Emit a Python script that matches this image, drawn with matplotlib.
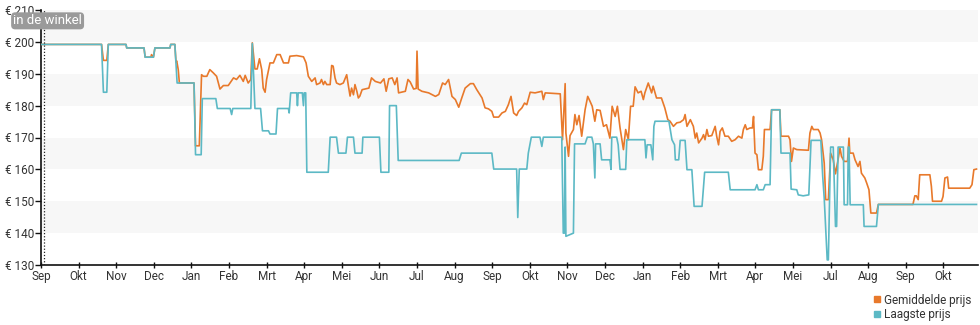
import matplotlib
matplotlib.use("Agg")
import matplotlib.pyplot as plt
from matplotlib.lines import Line2D

plt.rcParams['font.family'] = ['Roboto', 'DejaVu Sans']

# month labels along the x axis (one tick per month)
month_labels = ['Sep', 'Okt', 'Nov', 'Dec', 'Jan', 'Feb', 'Mrt', 'Apr', 'Mei', 'Jun',
                'Jul', 'Aug', 'Sep', 'Okt', 'Nov', 'Dec', 'Jan', 'Feb', 'Mrt', 'Apr',
                'Mei', 'Jul', 'Aug', 'Sep', 'Okt']
price_ticks = [130, 140, 150, 160, 170, 180, 190, 200, 210]

# average price: (months since start, euro)
avg_t = [0, 1.61, 1.66, 1.75, 1.79, 2.26, 2.28, 2.74, 2.77, 2.92, 2.94, 2.99, 3.03, 3.43,
         3.45, 3.56, 3.59, 3.61, 3.65, 3.68, 4.07, 4.11, 4.21, 4.27, 4.32, 4.41, 4.49, 4.58,
         4.67, 4.76, 4.85, 4.98, 5.12, 5.20, 5.29, 5.38, 5.43, 5.51, 5.58, 5.62, 5.69, 5.75,
         5.81, 5.87, 5.91, 5.96, 6.00, 6.09, 6.18, 6.27, 6.36, 6.45, 6.58, 6.62, 6.80, 6.98,
         7.05, 7.11, 7.20, 7.29, 7.33, 7.42, 7.46, 7.51, 7.55, 7.60, 7.69, 7.73, 7.77, 7.82,
         7.86, 7.95, 8.04, 8.13, 8.17, 8.22, 8.26, 8.31, 8.35, 8.40, 8.44,
         8.48, 8.54, 8.72, 8.79, 8.89, 9.03, 9.12, 9.18, 9.25, 9.34, 9.41, 9.47, 9.51, 9.69,
         9.76, 9.82, 9.91, 9.98, 10.00, 10.03, 10.13, 10.31, 10.49, 10.58, 10.68, 10.75,
         10.84, 10.93, 11.02, 11.11, 11.19, 11.28, 11.42, 11.50, 11.59, 11.73, 11.81, 11.90,
         11.99, 12.04, 12.17, 12.26, 12.35, 12.43, 12.50, 12.57, 12.65, 12.70, 12.79, 12.86,
         12.92, 13.01, 13.14, 13.32, 13.36, 13.41, 13.81, 13.87, 13.94, 13.96, 14.03, 14.07,
         14.16, 14.20, 14.25, 14.31, 14.38, 14.47, 14.54, 14.60, 14.66, 14.73, 14.78, 14.87,
         14.96, 15.04, 15.13, 15.19, 15.27, 15.33, 15.40, 15.49, 15.55, 15.62, 15.68, 15.75,
         15.80, 15.88, 15.96, 16.02, 16.06, 16.15, 16.24, 16.28, 16.37, 16.50, 16.59,
         16.67, 16.73, 16.82, 16.91, 17.00, 17.09, 17.13, 17.18, 17.27, 17.35, 17.40, 17.44,
         17.49, 17.58, 17.62, 17.66, 17.71, 17.75, 17.84, 17.93, 17.97, 18.02, 18.06, 18.12,
         18.19, 18.28, 18.37, 18.46, 18.55, 18.64, 18.68, 18.73, 18.77, 18.86, 18.92, 18.95,
         18.99, 19.04, 19.08, 19.17, 19.21, 19.24, 19.39, 19.43, 19.65, 19.68, 19.88, 19.92,
         19.96, 20.01, 20.10, 20.41, 20.45, 20.50, 20.54, 20.67, 20.72, 20.76, 20.83, 20.87,
         20.94, 21.00, 21.07, 21.13, 21.19, 21.25, 21.29, 21.36, 21.45, 21.49, 21.51, 21.60,
         21.65, 21.73, 21.78, 21.82, 21.91, 21.96, 22.02, 22.07, 22.22, 22.27, 23.19, 23.24,
         23.28, 23.33, 23.37, 23.64, 23.68, 23.71, 23.95, 23.99, 24.04, 24.11, 24.14, 24.70,
         24.76, 24.81, 24.88]
avg_price = [199.2, 199.2, 194.2, 194.2, 199.2, 199.2, 198.1, 198.1, 195.2, 195.2, 196.0,
             195.2, 198.1, 198.1, 199.2, 199.2, 193.7, 194.0, 191.3, 187.1, 187.1, 167.4,
             167.4, 189.7, 189.2, 189.2, 191.3, 190.3, 189.2, 185.2, 186.3, 186.3, 188.7,
             188.2, 189.5, 187.6, 189.5, 187.1, 188.2, 199.7, 191.5, 191.5, 194.7, 191.3,
             185.5, 184.2, 188.2, 193.4, 193.4, 196.0, 196.0, 193.4, 193.4, 195.5, 195.7,
             195.3, 193.4, 189.2, 187.6, 188.7, 186.6, 187.1, 188.2, 186.6, 187.6, 186.6,
             186.6, 192.6, 192.4, 188.7, 187.1, 186.6, 187.1, 189.7, 186.6, 183.0, 185.5,
             183.4, 186.6, 184.5, 182.4,
             183.0, 185.0, 185.5, 188.7, 187.6, 187.1, 188.4, 184.5, 188.4, 188.7, 186.6,
             188.7, 184.0, 184.5, 188.2, 187.4, 185.2, 185.4, 197.1, 185.2, 184.5, 184.0,
             182.9, 183.5, 187.1, 186.6, 188.2, 182.9, 181.9, 179.5, 182.4, 185.5, 186.9,
             186.9, 185.0, 182.4, 179.3, 179.0, 178.2, 176.4, 176.4, 177.7, 178.2, 180.3,
             182.9, 177.7, 176.9, 178.2, 179.3, 180.8, 180.3, 184.2, 184.0, 184.5, 181.9,
             184.0, 183.7, 169.3, 186.9, 171.4, 164.1, 170.6, 172.5, 177.2, 174.0, 176.9,
             170.4, 178.7, 182.9, 181.4, 179.8, 175.1, 178.7, 178.5, 173.5, 174.0, 169.8,
             179.8, 176.6, 179.8, 173.0, 166.2, 172.5, 169.3, 179.8, 179.8, 185.9, 184.0,
             184.5, 181.9, 184.0, 187.1, 184.0, 186.1, 182.4, 182.4, 179.3,
             175.6, 175.1, 173.5, 174.6, 174.8, 175.6, 177.2, 173.5, 175.6, 173.5, 169.8,
             171.4, 168.3, 169.8, 170.9, 169.3, 172.5, 170.4, 170.6, 173.5, 170.4, 167.7,
             171.9, 173.0, 170.4, 170.4, 168.8, 169.3, 170.4, 169.8, 172.5, 174.0, 172.5,
             173.0, 173.0, 176.6, 165.1, 164.6, 159.9, 159.9, 164.1, 172.5, 172.5, 178.7,
             178.7, 170.4, 170.4, 169.3, 162.5, 166.7, 166.2, 166.0, 171.4, 173.5, 172.5,
             172.5, 171.4, 169.3, 162.0, 150.5, 150.5, 165.1, 163.0, 158.6, 162.5, 166.7,
             164.1, 162.5, 162.5, 169.8, 165.1, 165.1, 163.0, 160.9, 162.5, 158.8, 157.3,
             155.7, 153.6, 146.3, 146.3, 149.0, 149.0, 151.7, 151.7, 150.5, 158.3, 158.3,
             154.7, 150.0, 150.0, 151.5, 157.3, 157.6, 154.1, 154.1, 155.2, 159.9, 160.1]

# lowest price: (months since start, euro)
low_t = [0, 1.61, 1.66, 1.75, 1.79, 2.26, 2.28, 2.74, 2.77, 2.99, 3.03, 3.43, 3.45, 3.56,
         3.62, 4.07, 4.11, 4.26, 4.29, 4.65, 4.69, 5.03, 5.07, 5.10, 5.58, 5.62, 5.69, 5.84,
         5.89, 6.05, 6.09, 6.25, 6.29, 6.58, 6.60, 6.64, 6.80, 6.82, 6.84, 6.95, 6.98, 7.00,
         7.04, 7.07, 7.64, 7.69, 7.86, 7.91, 8.11, 8.15, 8.31, 8.35, 8.54, 8.56, 9.00, 9.04,
         9.25, 9.27, 9.45, 9.50, 11.12, 11.18, 11.99, 12.04, 12.65, 12.68, 12.72, 12.92,
         12.96, 13.04, 13.27, 13.32, 13.36, 13.85, 13.89, 13.92, 13.94, 13.96, 14.16, 14.19,
         14.47, 14.53, 14.65, 14.69, 14.73, 14.75, 14.87, 14.91, 15.13, 15.16, 15.18, 15.31,
         15.35, 15.40, 15.55, 15.58, 16.06, 16.09, 16.12, 16.22, 16.27, 16.30, 16.33, 16.70,
         16.78, 16.85, 16.87, 16.96, 17.00, 17.13, 17.18, 17.31, 17.37, 17.58, 17.65, 18.28,
         18.33, 18.99, 19.04, 19.08, 19.21, 19.26, 19.39, 19.43, 19.65, 19.68, 19.92, 19.95,
         20.10, 20.14, 20.27, 20.42, 20.48, 20.74, 20.79, 20.83, 20.91, 20.94, 21.00, 21.07,
         21.13, 21.16, 21.20, 21.34, 21.36, 21.45, 21.47, 21.49, 21.52, 21.87, 21.89, 22.22,
         22.27, 24.88]
low_price = [199.2, 199.2, 184.2, 184.2, 199.2, 199.2, 198.1, 198.1, 195.2, 195.2, 198.1,
             198.1, 199.2, 199.2, 187.1, 187.1, 164.6, 164.6, 182.2, 182.2, 179.1, 179.1,
             177.2, 179.1, 179.1, 199.5, 179.1, 179.1, 172.1, 172.1, 171.1, 171.1, 179.1,
             179.1, 177.7, 184.0, 184.0, 180.0, 184.0, 184.0, 180.0, 184.0, 184.0, 159.1,
             159.1, 170.1, 170.1, 165.1, 165.1, 170.1, 170.1, 165.1, 165.1, 170.1, 170.1,
             159.1, 159.1, 180.0, 180.0, 162.8, 162.8, 165.1, 165.1, 160.1, 160.1, 144.9,
             160.1, 160.1, 165.1, 170.1, 170.1, 167.2, 170.1, 170.1, 140.0, 140.0, 167.0,
             139.0, 140.0, 168.0, 168.0, 170.1, 170.1, 168.0, 157.3, 168.0, 168.0, 163.0,
             163.0, 160.0, 170.1, 170.1, 167.7, 160.0, 160.0, 169.3, 169.3, 163.6, 167.7,
             167.7, 163.0, 173.5, 175.1, 175.1, 169.3, 167.7, 163.0, 163.0, 169.1, 169.1,
             159.9, 159.9, 148.4, 148.4, 159.1, 159.1, 153.6, 153.6, 155.2, 153.6, 153.6,
             155.2, 155.2, 178.7, 178.7, 165.1, 165.1, 153.8, 153.6, 152.0, 151.7, 152.0,
             169.1, 169.1, 157.8, 151.0, 131.6, 131.6, 167.0, 167.0, 142.1, 142.1, 167.0,
             167.0, 148.9, 148.9, 167.0, 167.0, 148.9, 148.9, 142.1, 142.1, 149.0, 149.0]

orange = '#e8792b'
teal = '#5cb9c5'
text_col = '#333333'

fig = plt.figure(figsize=(9.8, 3.25), dpi=100)
ax = fig.add_axes([41 / 980, 60 / 325, 937 / 980, 255 / 325])

# alternating light bands behind the lines
for lo in range(140, 210, 20):
    ax.axhspan(lo, lo + 10, color='#f7f7f7', lw=0, zorder=0)

ax.plot(avg_t, avg_price, color=orange, lw=1.2, zorder=3, label='Gemiddelde prijs')
ax.plot(low_t, low_price, color=teal, lw=1.2, zorder=4, label='Laagste prijs')

# start of availability marker
ax.axvline(0.08, color='#222222', lw=0.9, ls=(0, (1, 1.5)), zorder=5)
ax.text(-0.74, 206.6, 'in de winkel', fontsize=9.5, color='white', ha='left', va='center',
        zorder=6, clip_on=False,
        bbox=dict(boxstyle='round,pad=0.1,rounding_size=0.25', fc='#9a9a9a', ec='#9a9a9a'))

ax.set_xlim(0, 24.92)
ax.set_ylim(130, 210)
ax.set_xticks(range(len(month_labels)))
ax.set_xticklabels(month_labels)
ax.set_yticks(price_ticks)
ax.set_yticklabels(['€ %d' % v for v in price_ticks])

for side in ['top', 'right']:
    ax.spines[side].set_visible(False)
for side in ['left', 'bottom']:
    ax.spines[side].set_color('#111111')
    ax.spines[side].set_linewidth(1.2)

ax.tick_params(axis='y', direction='out', length=4, width=1, pad=1,
               labelsize=8.5, labelcolor=text_col, color='#111111')
ax.tick_params(axis='x', direction='inout', length=5, width=1, pad=1,
               labelsize=8.5, labelcolor=text_col, color='#111111')

handles = [Line2D([], [], marker='s', ls='none', color=orange, markersize=5),
           Line2D([], [], marker='s', ls='none', color=teal, markersize=5)]
fig.legend(handles, ['Gemiddelde prijs', 'Laagste prijs'], loc='upper right',
           bbox_to_anchor=(1.0, 0.122), frameon=False, fontsize=8.5,
           handlelength=0.6, handletextpad=0.3, labelspacing=0.1, borderpad=0.2,
           labelcolor=text_col)

fig.savefig('out.png', dpi=100)
